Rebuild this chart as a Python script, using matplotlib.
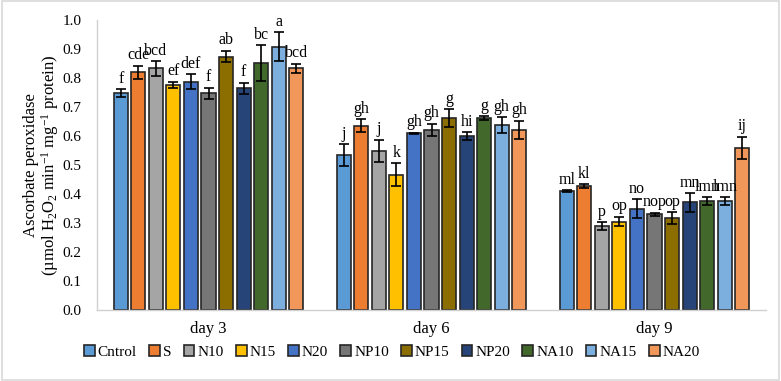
import matplotlib
matplotlib.use("Agg")
import matplotlib.pyplot as plt
import numpy as np
from matplotlib.patches import Rectangle

plt.rcParams['font.family'] = ['Liberation Serif', 'DejaVu Serif']
plt.rcParams['mathtext.fontset'] = 'custom'
plt.rcParams['mathtext.rm'] = 'Liberation Serif'
plt.rcParams['mathtext.it'] = 'Liberation Serif:italic'

days = ["day 3", "day 6", "day 9"]
treatments = ["Cntrol", "S", "N10", "N15", "N20", "NP10", "NP15", "NP20", "NA10", "NA15", "NA20"]
colors = ["#5B9BD5", "#ED7D31", "#A5A5A5", "#FFC000", "#4472C4", "#767676",
          "#8C6D00", "#264478", "#43682B", "#7CAFDD", "#F1975A"]

day3 = [0.747, 0.820, 0.833, 0.776, 0.787, 0.747, 0.874, 0.764, 0.851, 0.908, 0.833]
day6 = [0.534, 0.636, 0.548, 0.466, 0.609, 0.621, 0.661, 0.600, 0.661, 0.638, 0.621]
day9 = [0.410, 0.428, 0.290, 0.305, 0.350, 0.330, 0.316, 0.371, 0.376, 0.376, 0.560]

err3 = [0.014, 0.023, 0.026, 0.011, 0.026, 0.020, 0.020, 0.020, 0.062, 0.050, 0.017]
err6 = [0.037, 0.021, 0.039, 0.040, 0.003, 0.022, 0.031, 0.013, 0.007, 0.026, 0.032]
err9 = [0.003, 0.007, 0.014, 0.017, 0.032, 0.006, 0.021, 0.032, 0.013, 0.013, 0.038]

let3 = ["f", "cde", "bcd", "ef", "def", "f", "ab", "f", "bc", "a", "bcd"]
let6 = ["j", "gh", "j", "k", "gh", "gh", "g", "hi", "g", "gh", "gh"]
let9 = ["ml", "kl", "p", "op", "no", "nop", "op", "mn", "lmn", "lmn", "ij"]

values = np.array([day3, day6, day9])
errors = np.array([err3, err6, err9])
letters = [let3, let6, let9]

fig = plt.figure(figsize=(7.81, 3.81), dpi=100)
ax = fig.add_axes([97/781, 1-310/381, (766-97)/781, 290/381])

n = len(treatments)
slot = 0.0787
bw = 0.063
x = np.arange(len(days))
for i, t in enumerate(treatments):
    pos = x - slot*(n-1)/2 + i*slot
    ax.bar(pos, values[:, i], width=bw, color=colors[i], edgecolor="#262626",
           linewidth=1.2, label=t, zorder=2)
    ax.errorbar(pos, values[:, i], yerr=errors[:, i], fmt='none', ecolor='black',
                elinewidth=1.2, capsize=3.5, capthick=1.2, zorder=3)
    for j in range(len(days)):
        ax.text(pos[j], values[j, i] + errors[j, i] + 0.008, letters[j][i],
                ha='center', va='bottom', fontsize=11.5)

ax.set_ylim(0, 1.0)
ax.set_xlim(-0.5, 2.5)
ax.set_yticks(np.arange(0, 1.01, 0.1))
ax.set_yticklabels([f"{v:.1f}" for v in np.arange(0, 1.01, 0.1)], fontsize=11)
ax.set_xticks(x)
ax.set_xticklabels(days, fontsize=12)
ax.tick_params(axis='y', length=0, pad=11)
ax.tick_params(axis='x', length=0, pad=8)
for s in ["top", "right"]:
    ax.spines[s].set_visible(False)
for s in ["left", "bottom"]:
    ax.spines[s].set_color("#D0D0D0")
    ax.spines[s].set_linewidth(1)

ax.set_ylabel("Ascorbate peroxidase\n(µmol H$_2$O$_2$ min$^{-1}$ mg$^{-1}$ protein)", fontsize=12,
              linespacing=1.0, labelpad=1)

ax.legend(loc='center', ncol=11,
          frameon=False, fontsize=11, handlelength=0.7, handleheight=0.7,
          handletextpad=0.2, columnspacing=0.8, borderaxespad=0,
          bbox_to_anchor=(392/781, 1-352/381), bbox_transform=fig.transFigure)

fig.patches.append(Rectangle((0.002, 0.003), 0.996, 0.994, transform=fig.transFigure,
                             fill=False, edgecolor="#D9D9D9", linewidth=1.2))

fig.savefig("out.png", dpi=100)
